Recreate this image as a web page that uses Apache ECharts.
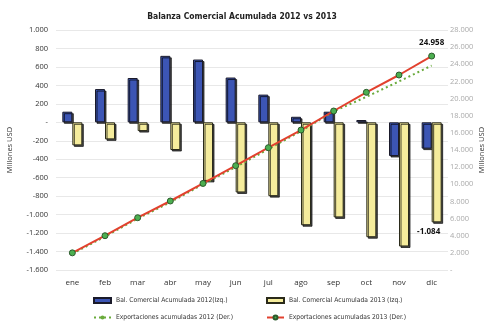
<!DOCTYPE html>
<html><head><meta charset="utf-8">
<script src="https://cdn.jsdelivr.net/npm/echarts@6/dist/echarts.min.js"></script>
<style>html,body{margin:0;padding:0;background:#fff}#c{width:487px;height:327px}</style>
</head><body><div id="c"></div>
<script>
var categories = ['ene','feb','mar','abr','may','jun','jul','ago','sep','oct','nov','dic'];
var bal2012 = [115, 360, 480, 720, 680, 485, 300, 60, 115, 25, -365, -285];
var bal2013 = [-250, -185, -95, -300, -635, -760, -800, -1115, -1030, -1245, -1345, -1084];
var exp2012 = [1900, 3900, 6000, 7900, 10000, 12000, 14100, 16200, 18500, 20200, 22000, 23850];
var exp2013 = [2000, 4000, 6100, 8050, 10100, 12170, 14270, 16330, 18550, 20730, 22750, 24958];
var seriesNames = ['Bal. Comercial Acumulada 2012(Izq.)','Bal. Comercial Acumulada 2013 (Izq.)','Exportaciones acumuladas 2012 (Der.)','Exportaciones acumuladas 2013 (Der.)'];

function fmt(v){
  if (v === 0) return '-';
  var s = Math.abs(Math.round(v)).toString().replace(/\B(?=(\d{3})+(?!\d))/g, '.');
  return (v < 0 ? '-' : '') + s;
}
var FF = '"Open Sans", "Liberation Sans", sans-serif';
var FN = '"DejaVu Sans Condensed", "Liberation Sans Narrow", Roboto, sans-serif';
var chart = echarts.init(document.getElementById('c'));
var legendBase = {itemWidth: 17, itemHeight: 5, padding:0, textStyle:{fontSize:6.7, color:'#333', fontFamily:FN}, itemGap: 3};
chart.setOption({
  animation:false,
  title:{text:'Balanza Comercial Acumulada 2012 vs 2013', left:237, textAlign:'center', top:7,
    textStyle:{fontSize:8.5, fontWeight:'bold', color:'#222', fontFamily:FN}},
  grid:{left:56, right:39, top:30, bottom:57, outerBoundsMode:'none', containLabel:false},
  legend:[
    Object.assign({}, legendBase, {data:[{name:seriesNames[0], icon:'rect'}], left:93, top:297}),
    Object.assign({}, legendBase, {data:[{name:seriesNames[1], icon:'rect'}], left:266, top:297}),
    Object.assign({}, legendBase, {data:[seriesNames[2]], left:93, top:314}),
    Object.assign({}, legendBase, {data:[seriesNames[3]], left:266, top:314})
  ],
  xAxis:{type:'category', data:categories, axisLine:{show:false}, axisTick:{show:false},
    axisLabel:{fontSize:8, color:'#333', fontFamily:FF, margin:9}},
  yAxis:[
    {type:'value', min:-1600, max:1000, interval:200, name:'Millones USD', nameLocation:'middle', nameGap:42, nameRotate:90,
     nameTextStyle:{fontSize:7.5, color:'#333', fontFamily:FF},
     axisLabel:{fontSize:7.5, color:'#333', fontFamily:FF, formatter:fmt, margin:8},
     splitLine:{lineStyle:{color:'#e8e8e8'}}, axisLine:{show:false}, axisTick:{show:false}},
    {type:'value', min:0, max:28000, interval:2000, name:'Millones USD', nameLocation:'middle', nameGap:30, nameRotate:90, nameMoveOverlap:false,
     nameTextStyle:{fontSize:7.5, color:'#333', fontFamily:FF},
     axisLabel:{fontSize:7.5, color:'#aaa', fontFamily:FF, formatter:fmt, margin:2},
     splitLine:{show:false}, axisLine:{show:false}, axisTick:{show:false}}
  ],
  series:[
    {name:seriesNames[0], type:'bar', yAxisIndex:0, data:bal2012, barWidth:10, barGap:'0%',
     itemStyle:{color:'#3c55b4', borderColor:'#1a1a2a', borderWidth:1, shadowColor:'rgba(0,0,0,0.7)', shadowOffsetX:1.5, shadowOffsetY:1.5}},
    {name:seriesNames[1], type:'bar', yAxisIndex:0, barWidth:10,
     data:bal2013.map(function(v,i){ return i===bal2013.length-1 ? {value:v, label:{show:true, position:'bottom', offset:[-8,0], formatter:function(p){return fmt(p.value);}, fontSize:8, fontWeight:'bold', color:'#111', fontFamily:FF}} : v; }),
     itemStyle:{color:'#f5ec9c', borderColor:'#2a2a1a', borderWidth:1, shadowColor:'rgba(0,0,0,0.7)', shadowOffsetX:1.5, shadowOffsetY:1.5}},
    {name:seriesNames[2], type:'line', yAxisIndex:1, data:exp2012, symbol:'none', z:3,
     lineStyle:{color:'#6aab3c', width:2, type:[2,3]}, itemStyle:{color:'#6aab3c'}},
    {name:seriesNames[3], type:'line', yAxisIndex:1, z:4, symbol:'circle', symbolSize:6,
     data:exp2013.map(function(v,i){ return i===exp2013.length-1 ? {value:v, label:{show:true, position:'top', offset:[0,-1], formatter:function(p){return fmt(p.value);}, fontSize:8, fontWeight:'bold', color:'#111', fontFamily:FF}} : v; }),
     lineStyle:{color:'#e2412e', width:2}, itemStyle:{color:'#4caf50', borderColor:'#2c5a2c', borderWidth:1}}
  ]
});
</script></body></html>
